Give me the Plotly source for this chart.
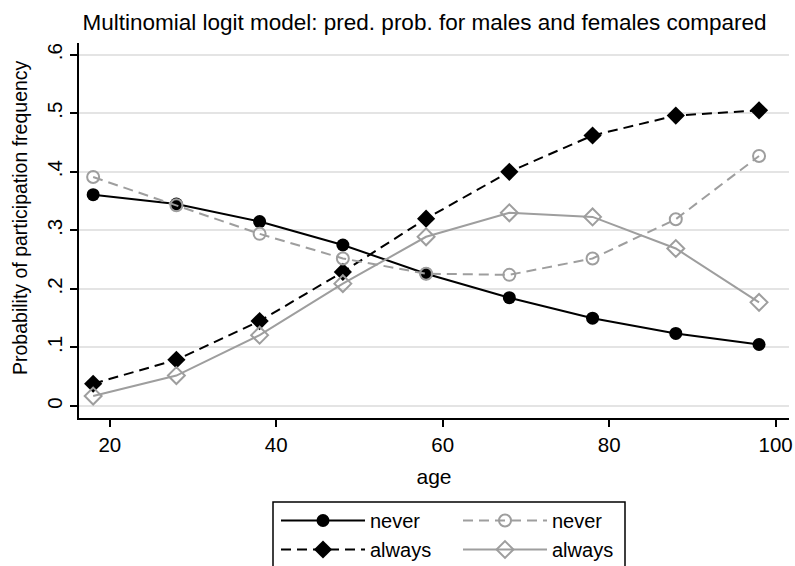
import plotly.graph_objects as go

ages = [18, 28, 38, 48, 58, 68, 78, 88, 98]
never_m = [0.361, 0.345, 0.315, 0.275, 0.226, 0.185, 0.150, 0.124, 0.105]
always_m = [0.038, 0.079, 0.145, 0.229, 0.320, 0.400, 0.462, 0.496, 0.505]
never_f = [0.391, 0.343, 0.294, 0.252, 0.226, 0.224, 0.252, 0.319, 0.427]
always_f = [0.017, 0.052, 0.121, 0.209, 0.289, 0.330, 0.323, 0.269, 0.177]
y_ticks = [0, 0.1, 0.2, 0.3, 0.4, 0.5, 0.6]
y_labels = ["0", ".1", ".2", ".3", ".4", ".5", ".6"]
x_ticks = [20, 40, 60, 80, 100]

GRAY = "#9e9e9e"
FONT = "Liberation Sans, Arial, Helvetica, sans-serif"

fig = go.Figure()
fig.add_trace(go.Scatter(x=ages, y=never_m, name="never", mode="lines+markers",
                         line=dict(color="black", width=2),
                         marker=dict(symbol="circle", size=13, color="black"),
                         legend="legend"))
fig.add_trace(go.Scatter(x=ages, y=always_m, name="always", mode="lines+markers",
                         line=dict(color="black", width=2, dash="10px,6px"),
                         marker=dict(symbol="diamond", size=14, color="black"),
                         legend="legend"))
fig.add_trace(go.Scatter(x=ages, y=never_f, name="never", mode="lines+markers",
                         line=dict(color=GRAY, width=2, dash="10px,6px"),
                         marker=dict(symbol="circle-open", size=12, color=GRAY,
                                     line=dict(width=2, color=GRAY)),
                         legend="legend2"))
fig.add_trace(go.Scatter(x=ages, y=always_f, name="always", mode="lines+markers",
                         line=dict(color=GRAY, width=2),
                         marker=dict(symbol="diamond-open", size=13, color=GRAY,
                                     line=dict(width=2, color=GRAY)),
                         legend="legend2"))

L, R, T, B = 79, 6, 43, 148
W, H = 795, 566
pw, ph = W - L - R, H - T - B

def px_x(p):
    return (p - L) / pw

def px_y(p):
    return (H - B - p) / ph

legend_common = dict(orientation="v", bgcolor="rgba(0,0,0,0)", borderwidth=0,
                     font=dict(family=FONT, size=20, color="black"),
                     xanchor="left", yanchor="top", tracegroupgap=0,
                     itemwidth=84)

fig.update_layout(
    width=W, height=H,
    margin=dict(l=L, r=R, t=T, b=B, autoexpand=False),
    paper_bgcolor="white", plot_bgcolor="white",
    font=dict(family=FONT, size=20, color="black"),
    title=dict(text="Multinomial logit model: pred. prob. for males and females compared",
               x=0.534, xanchor="center", y=1 - 22 / H, yanchor="middle",
               font=dict(family=FONT, size=22.5, color="black")),
    xaxis=dict(range=[16.3, 101.6], tickvals=x_ticks, showgrid=False, zeroline=False,
               showline=True, linecolor="black", linewidth=2,
               ticks="outside", ticklen=7, tickwidth=2, tickcolor="black",
               tickfont=dict(size=20.5),
               title=dict(text="age", font=dict(size=21), standoff=15)),
    yaxis=dict(range=[-0.0205, 0.62], tickvals=y_ticks, ticktext=y_labels,
               tickangle=-90, showgrid=True, gridcolor="#e4e4e4", gridwidth=1.5,
               zeroline=False, showline=True, linecolor="black", linewidth=2,
               ticks="outside", ticklen=7, tickwidth=2, tickcolor="black",
               tickfont=dict(size=20.5)),
    legend=dict(x=px_x(276), y=px_y(501), **legend_common),
    legend2=dict(x=px_x(458), y=px_y(501), **legend_common),
    annotations=[dict(text="Probability of participation frequency", textangle=-90,
                      xref="paper", yref="paper", x=px_x(20), y=px_y(218),
                      xanchor="center", yanchor="middle", showarrow=False,
                      font=dict(family=FONT, size=19.5, color="black"))],
    shapes=[dict(type="rect", xref="paper", yref="paper",
                 x0=px_x(273), x1=px_x(625), y0=px_y(585), y1=px_y(502),
                 line=dict(color="black", width=1.5), fillcolor="rgba(0,0,0,0)")],
)

fig.write_html("out.html")
